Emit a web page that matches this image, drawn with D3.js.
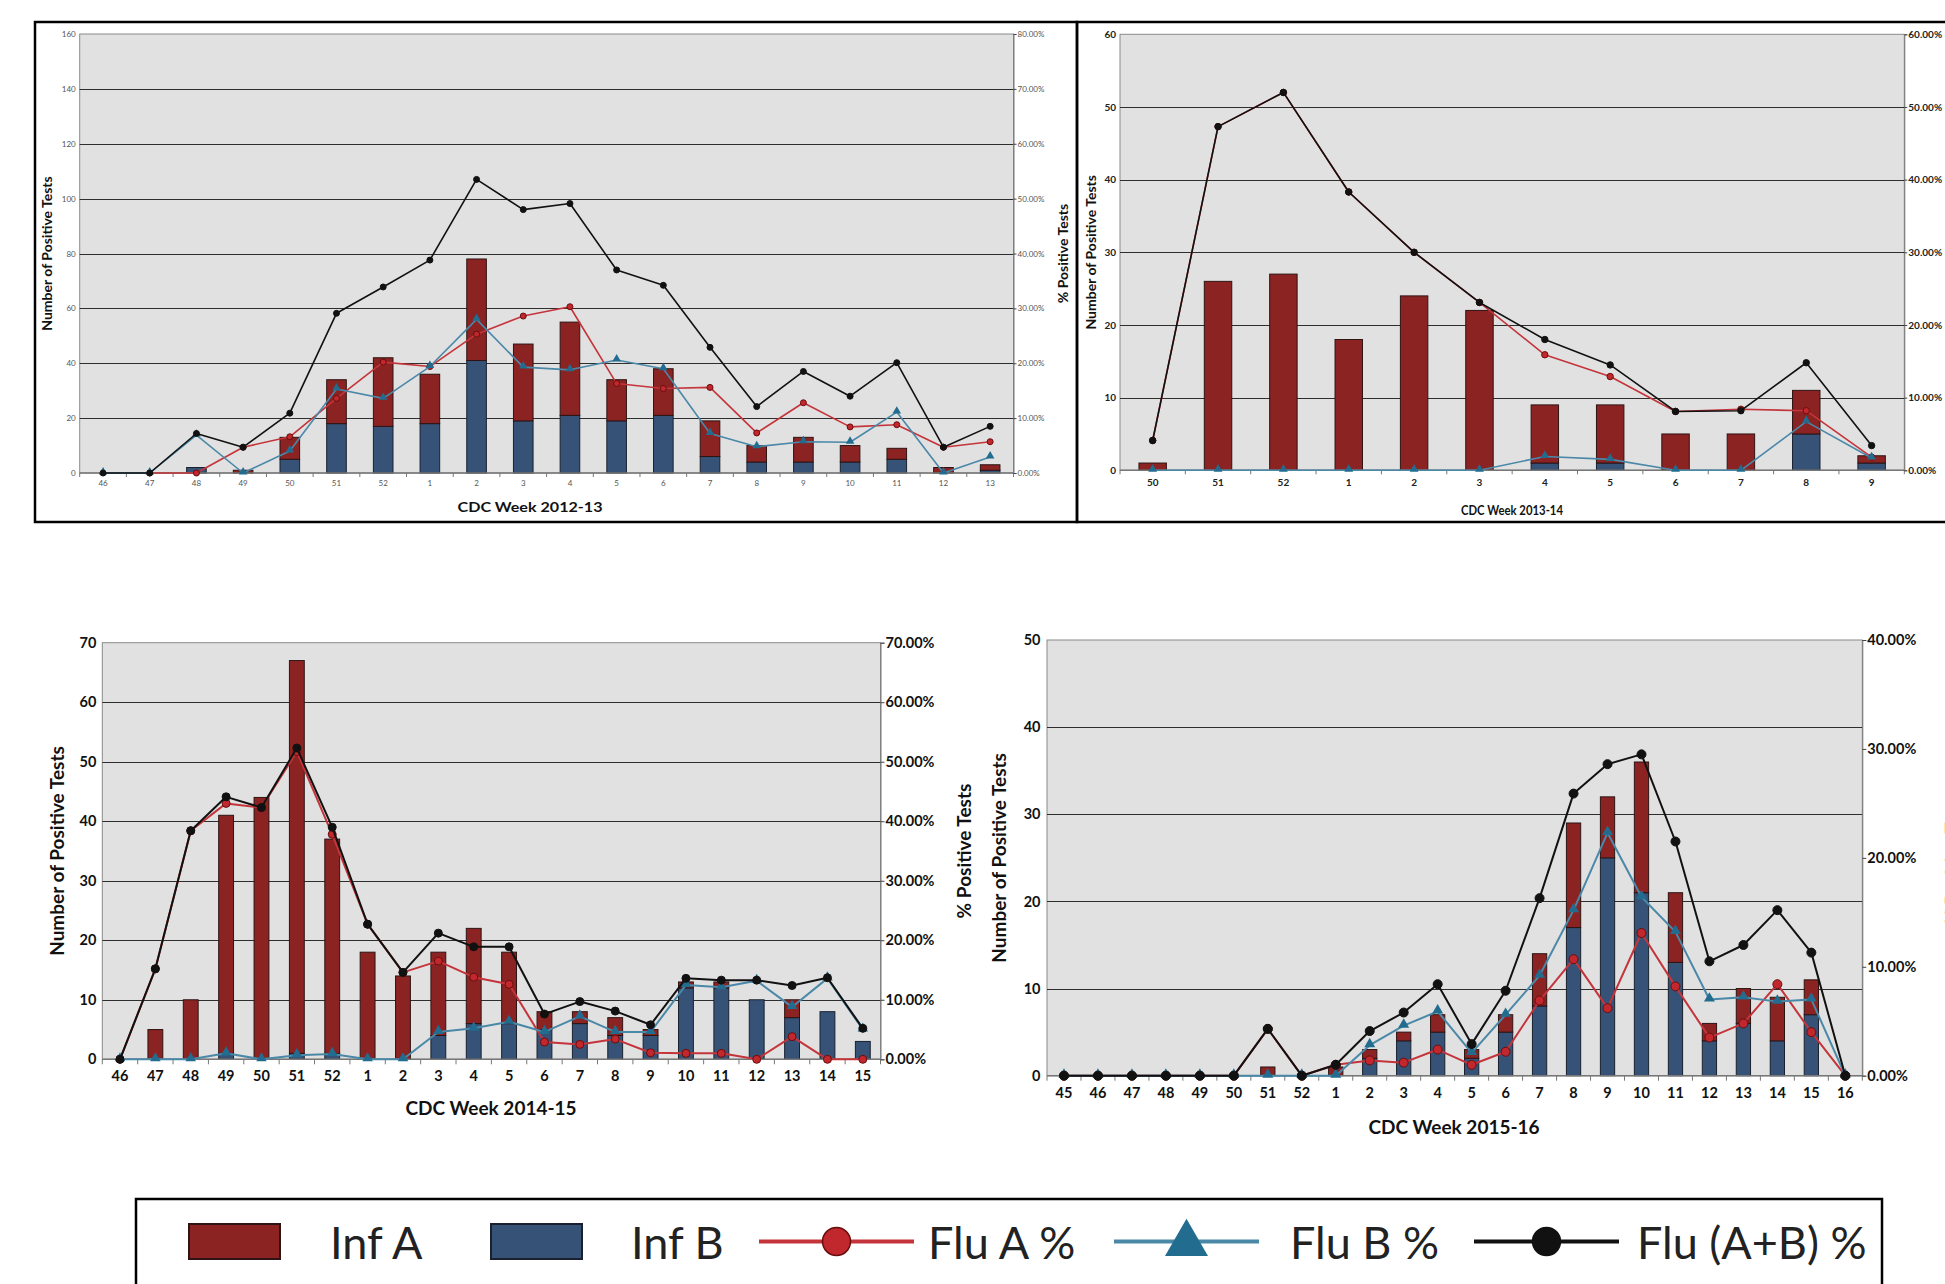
<!DOCTYPE html>
<html>
<head>
<meta charset="utf-8">
<script src="https://cdn.jsdelivr.net/npm/d3@7"></script>
<style>
  body { margin: 0; background: #fff; }
  svg text { font-family: Lato, "Open Sans", sans-serif; }
</style>
</head>
<body>
<svg id="chart" width="1945" height="1284"></svg>
<script>
// ---- data: season 2012-13 ----
const weeks1213 = ["46","47","48","49","50","51","52","1","2","3","4","5","6","7","8","9","10","11","12","13"];
const infA1213  = [0,0,0,1,8,16,25,18,37,28,34,15,17,13,6,9,6,4,2,2];
const infB1213  = [0,0,2,0,5,18,17,18,41,19,21,19,21,6,4,4,4,5,0,1];
const fluA1213  = [null,0,0,4.7,6.6,13.6,20.2,19.4,25.3,28.6,30.3,16.3,15.4,15.6,7.3,12.8,8.4,8.8,4.7,5.7];
const fluB1213  = [0,0,6.9,0,4.0,15.3,13.6,19.4,28.0,19.3,18.8,20.6,19.0,7.2,4.8,5.7,5.6,11.1,0,2.9];
const fluAB1213 = [0,0,7.2,4.7,10.9,29.1,33.9,38.8,53.5,48.0,49.1,37.0,34.2,22.9,12.1,18.5,14.0,20.1,4.7,8.5];

// ---- data: season 2013-14 ----
const weeks1314 = ["50","51","52","1","2","3","4","5","6","7","8","9"];
const infA1314  = [1,26,27,18,24,22,8,8,5,5,6,1];
const infB1314  = [0,0,0,0,0,0,1,1,0,0,5,1];
const fluA1314  = [4.1,47.3,52.0,38.3,30.0,23.1,15.9,12.9,8.1,8.4,8.2,1.8];
const fluB1314  = [0,0,0,0,0,0,1.9,1.5,0,0,6.7,1.7];
const fluAB1314 = [4.1,47.3,52.0,38.3,30.0,23.1,18.0,14.5,8.1,8.2,14.8,3.4];

// ---- data: season 2014-15 ----
const weeks1415 = ["46","47","48","49","50","51","52","1","2","3","4","5","6","7","8","9","10","11","12","13","14","15"];
const infA1415  = [0,5,10,40,44,66,36,18,14,14,16,12,3,2,3,1,1,1,0,3,0,0];
const infB1415  = [0,0,0,1,0,1,1,0,0,4,6,6,5,6,4,4,12,12,10,7,8,3];
const fluA1415  = [0,15.2,38.4,43.0,42.3,51.7,37.8,22.7,14.6,16.5,13.8,12.6,2.9,2.5,3.4,1.1,1.0,1.0,0,3.8,0,0];
const fluB1415  = [0,0,0,1.0,0,0.7,0.9,0,0,4.6,5.2,6.3,4.6,7.2,4.6,4.6,12.5,12.1,13.2,8.8,13.6,5.0];
const fluAB1415 = [0,15.2,38.4,44.1,42.3,52.3,39.0,22.7,14.6,21.2,18.9,18.9,7.6,9.7,8.1,5.8,13.6,13.3,13.3,12.4,13.7,5.2];

// ---- data: season 2015-16 ----
const weeks1516 = ["45","46","47","48","49","50","51","52","1","2","3","4","5","6","7","8","9","10","11","12","13","14","15","16"];
const infA1516  = [0,0,0,0,0,0,1,0,1,1,1,2,1,2,6,12,7,15,8,2,4,5,4,0];
const infB1516  = [0,0,0,0,0,0,0,0,0,2,4,5,2,5,8,17,25,21,13,4,6,4,7,0];
const fluA1516  = [0,0,0,0,0,0,4.3,0,1.0,1.4,1.2,2.4,1.0,2.2,6.9,10.7,6.2,13.1,8.2,3.5,4.8,8.4,4.0,0];
const fluB1516  = [0,0,0,0,0,0,0,0,0,2.8,4.6,5.9,2.1,5.6,9.2,15.2,22.3,16.4,13.2,7.0,7.2,6.8,7.0,0];
const fluAB1516 = [0,0,0,0,0,0,4.3,0,1.0,4.1,5.8,8.4,2.9,7.8,16.3,25.9,28.6,29.5,21.5,10.5,12.0,15.2,11.3,0];

const legendLabels = ["Inf A", "Inf B", "Flu A %", "Flu B %", "Flu (A+B) %"];

const colors = {
  infA: "#8b2323", infAEdge: "#2e1414",
  infB: "#365377", infBEdge: "#19212e",
  fluA: "#c4343a", fluADot: "#c0282d", fluADotEdge: "#6a0d0d",
  fluB: "#4a88a8", fluBDot: "#216c8f",
  fluAB: "#111111"
};

const svg = d3.select("#chart");

// frames round the two top charts
svg.append("rect").attr("x", 35).attr("y", 22).attr("width", 1042).attr("height", 500)
  .attr("fill", "none").attr("stroke", "#000").attr("stroke-width", 2.5);
svg.append("rect").attr("x", 1077).attr("y", 22).attr("width", 900).attr("height", 500)
  .attr("fill", "none").attr("stroke", "#000").attr("stroke-width", 2.5);

function drawPanel(cfg, weeks, infA, infB, fluA, fluB, fluAB) {
  const g = svg.append("g");

  const x = d3.scaleBand().domain(weeks).range([cfg.left, cfg.right])
    .paddingInner(0.58).paddingOuter(0.29);
  const yL = d3.scaleLinear().domain([0, cfg.yMax]).range([cfg.bottom, cfg.top]);
  const yR = d3.scaleLinear().domain([0, cfg.pMax]).range([cfg.bottom, cfg.top]);
  const cx = w => x(w) + x.bandwidth() / 2;

  // plot area
  g.append("rect")
    .attr("x", cfg.left).attr("y", cfg.top)
    .attr("width", cfg.right - cfg.left).attr("height", cfg.bottom - cfg.top)
    .attr("fill", "#e1e1e1").attr("stroke", "#8a8a8a").attr("stroke-width", 1);

  const leftTicks = d3.range(0, cfg.yMax + cfg.yStep / 2, cfg.yStep);
  const rightTicks = d3.range(0, cfg.pMax + cfg.pStep / 2, cfg.pStep);

  // gridlines
  g.append("g").selectAll("line")
    .data(leftTicks.filter(v => v > 0 && v < cfg.yMax))
    .join("line")
    .attr("x1", cfg.left).attr("x2", cfg.right)
    .attr("y1", d => Math.round(yL(d)) + 0.5).attr("y2", d => Math.round(yL(d)) + 0.5)
    .attr("stroke", "#2e2e2e").attr("stroke-width", 1);

  // stacked bars: Inf B at the bottom, Inf A on top
  const rows = weeks.map((w, i) => ({ w: w, a: infA[i], b: infB[i] }));
  g.append("g").selectAll("rect")
    .data(rows.filter(r => r.b > 0))
    .join("rect")
    .attr("x", d => x(d.w)).attr("width", x.bandwidth())
    .attr("y", d => yL(d.b)).attr("height", d => yL(0) - yL(d.b))
    .attr("fill", colors.infB).attr("stroke", colors.infBEdge).attr("stroke-width", cfg.barEdge);
  g.append("g").selectAll("rect")
    .data(rows.filter(r => r.a > 0))
    .join("rect")
    .attr("x", d => x(d.w)).attr("width", x.bandwidth())
    .attr("y", d => yL(d.a + d.b)).attr("height", d => yL(d.b) - yL(d.a + d.b))
    .attr("fill", colors.infA).attr("stroke", colors.infAEdge).attr("stroke-width", cfg.barEdge);

  // bottom axis line
  g.append("line")
    .attr("x1", cfg.left).attr("x2", cfg.right)
    .attr("y1", cfg.bottom).attr("y2", cfg.bottom)
    .attr("stroke", "#777").attr("stroke-width", 1.5);

  // small tick marks between weeks
  g.append("g").selectAll("line")
    .data(d3.range(weeks.length + 1))
    .join("line")
    .attr("x1", i => cfg.left + i * x.step()).attr("x2", i => cfg.left + i * x.step())
    .attr("y1", cfg.bottom).attr("y2", cfg.bottom + cfg.tickLen)
    .attr("stroke", "#777").attr("stroke-width", 1);

  // percentage lines
  const series = [
    { v: fluA, line: colors.fluA, dot: colors.fluADot, edge: colors.fluADotEdge, shape: "circle" },
    { v: fluB, line: colors.fluB, dot: colors.fluBDot, edge: colors.fluBDot, shape: "triangle" },
    { v: fluAB, line: colors.fluAB, dot: colors.fluAB, edge: colors.fluAB, shape: "circle" }
  ];
  const line = d3.line()
    .defined(d => d.v != null)
    .x(d => cx(d.w))
    .y(d => yR(d.v));

  series.forEach(s => {
    const pts = weeks.map((w, i) => ({ w: w, v: s.v[i] }));
    g.append("path")
      .datum(pts)
      .attr("d", line)
      .attr("fill", "none")
      .attr("stroke", s.line)
      .attr("stroke-width", cfg.lineW)
      .attr("stroke-linejoin", "round");
    const valid = pts.filter(d => d.v != null);
    if (s.shape === "circle") {
      g.append("g").selectAll("circle")
        .data(valid)
        .join("circle")
        .attr("cx", d => cx(d.w)).attr("cy", d => yR(d.v))
        .attr("r", cfg.dotR)
        .attr("fill", s.dot).attr("stroke", s.edge).attr("stroke-width", 1);
    } else {
      g.append("g").selectAll("path")
        .data(valid)
        .join("path")
        .attr("d", d3.symbol(d3.symbolTriangle, cfg.triSize))
        .attr("transform", d => `translate(${cx(d.w)},${yR(d.v) - 1})`)
        .attr("fill", s.dot);
    }
  });

  // axes
  const tickStyle = sel => sel
    .attr("font-size", cfg.tickFont)
    .attr("font-weight", cfg.tickWeight)
    .attr("fill", cfg.tickColor)
    .attr("font-family", "Lato, 'Open Sans', sans-serif");

  g.append("g")
    .attr("transform", `translate(${cfg.left},0)`)
    .call(d3.axisLeft(yL).tickValues(leftTicks).tickSize(0).tickPadding(cfg.leftPad))
    .call(a => a.select(".domain").remove())
    .call(a => a.selectAll("text").call(tickStyle));

  g.append("g")
    .attr("transform", `translate(${cfg.right},0)`)
    .call(d3.axisRight(yR).tickValues(rightTicks)
      .tickFormat(d => d.toFixed(2) + "%").tickSize(cfg.rightTick).tickPadding(1))
    .call(a => a.select(".domain").attr("stroke", "#777"))
    .call(a => a.selectAll("line").attr("stroke", "#444"))
    .call(a => a.selectAll("text").call(tickStyle));

  g.append("g")
    .attr("transform", `translate(0,${cfg.bottom})`)
    .call(d3.axisBottom(x).tickSize(0).tickPadding(cfg.xPad))
    .call(a => a.select(".domain").remove())
    .call(a => a.selectAll("text").call(tickStyle));

  // titles
  const midY = (cfg.top + cfg.bottom) / 2;
  g.append("text")
    .attr("transform", `translate(${cfg.yTitleX},${midY}) rotate(-90)`)
    .attr("text-anchor", "middle").attr("dominant-baseline", "central")
    .attr("font-size", cfg.titleFont).attr("font-weight", "bold").attr("fill", "#111")
    .text("Number of Positive Tests");
  if (cfg.y2TitleX != null) {
    g.append("text")
      .attr("transform", `translate(${cfg.y2TitleX},${midY}) rotate(-90)`)
      .attr("text-anchor", "middle").attr("dominant-baseline", "central")
      .attr("font-size", cfg.titleFont).attr("font-weight", "bold").attr("fill", "#111")
      .text("% Positive Tests");
  }
  const xt = g.append("text")
    .attr("x", cfg.xTitleX).attr("y", cfg.xTitleY)
    .attr("text-anchor", "middle")
    .attr("font-size", cfg.titleFont).attr("font-weight", "bold").attr("fill", "#111")
    .text(cfg.xTitle);
  if (cfg.xTitleLen) xt.attr("textLength", cfg.xTitleLen).attr("lengthAdjust", "spacingAndGlyphs");
}

drawPanel({
  left: 79.7, right: 1013.5, top: 34, bottom: 473,
  yMax: 160, yStep: 20, pMax: 80, pStep: 10,
  tickFont: 8, tickWeight: "normal", tickColor: "#555",
  leftPad: 4, xPad: 7, rightTick: 3, tickLen: 4,
  titleFont: 14, yTitleX: 46, y2TitleX: 1062,
  xTitle: "CDC Week 2012-13", xTitleX: 530, xTitleY: 512, xTitleLen: 145,
  barEdge: 1, lineW: 1.6, dotR: 3, triSize: 32
}, weeks1213, infA1213, infB1213, fluA1213, fluB1213, fluAB1213);

drawPanel({
  left: 1120, right: 1904.3, top: 34.3, bottom: 470.3,
  yMax: 60, yStep: 10, pMax: 60, pStep: 10,
  tickFont: 10, tickWeight: "bold", tickColor: "#222",
  leftPad: 4, xPad: 9, rightTick: 3, tickLen: 4,
  titleFont: 14, yTitleX: 1090, y2TitleX: null,
  xTitle: "CDC Week 2013-14", xTitleX: 1512, xTitleY: 515, xTitleLen: 102,
  barEdge: 1, lineW: 1.6, dotR: 3.2, triSize: 34
}, weeks1314, infA1314, infB1314, fluA1314, fluB1314, fluAB1314);

drawPanel({
  left: 102.3, right: 880.5, top: 642.7, bottom: 1059.3,
  yMax: 70, yStep: 10, pMax: 70, pStep: 10,
  tickFont: 14.5, tickWeight: "bold", tickColor: "#111",
  leftPad: 6, xPad: 11.5, rightTick: 4, tickLen: 5,
  titleFont: 19, yTitleX: 56, y2TitleX: 963,
  xTitle: "CDC Week 2014-15", xTitleX: 491, xTitleY: 1115, xTitleLen: null,
  barEdge: 1, lineW: 2, dotR: 4, triSize: 48
}, weeks1415, infA1415, infB1415, fluA1415, fluB1415, fluAB1415);

drawPanel({
  left: 1047, right: 1862.3, top: 640, bottom: 1075.7,
  yMax: 50, yStep: 10, pMax: 40, pStep: 10,
  tickFont: 14.5, tickWeight: "bold", tickColor: "#111",
  leftPad: 6.5, xPad: 12, rightTick: 4, tickLen: 5,
  titleFont: 19, yTitleX: 998, y2TitleX: 1951,
  xTitle: "CDC Week 2015-16", xTitleX: 1454, xTitleY: 1134, xTitleLen: null,
  barEdge: 1, lineW: 2, dotR: 4.5, triSize: 52
}, weeks1516, infA1516, infB1516, fluA1516, fluB1516, fluAB1516);

// ---- legend ----
const lg = svg.append("g");
lg.append("rect").attr("x", 136).attr("y", 1199).attr("width", 1746).attr("height", 110)
  .attr("fill", "#fff").attr("stroke", "#000").attr("stroke-width", 2.5);

const legendY = 1241.5;
const legendItems = [
  { label: legendLabels[0], kind: "box", fill: colors.infA, edge: colors.infAEdge, x0: 189, x1: 280, tx: 330 },
  { label: legendLabels[1], kind: "box", fill: colors.infB, edge: colors.infBEdge, x0: 491, x1: 582, tx: 631 },
  { label: legendLabels[2], kind: "circle", line: colors.fluA, fill: colors.fluADot, edge: colors.fluADotEdge, x0: 759, x1: 914, tx: 928 },
  { label: legendLabels[3], kind: "triangle", line: colors.fluB, fill: colors.fluBDot, x0: 1114, x1: 1259, tx: 1290 },
  { label: legendLabels[4], kind: "circle", line: colors.fluAB, fill: colors.fluAB, edge: colors.fluAB, x0: 1474, x1: 1619, tx: 1637 }
];

legendItems.forEach(it => {
  const mid = (it.x0 + it.x1) / 2;
  if (it.kind === "box") {
    lg.append("rect").attr("x", it.x0).attr("y", legendY - 17.5).attr("width", it.x1 - it.x0).attr("height", 35)
      .attr("fill", it.fill).attr("stroke", it.edge).attr("stroke-width", 2);
  } else {
    lg.append("line").attr("x1", it.x0).attr("x2", it.x1).attr("y1", legendY).attr("y2", legendY)
      .attr("stroke", it.line).attr("stroke-width", 4);
    if (it.kind === "circle") {
      lg.append("circle").attr("cx", mid).attr("cy", legendY).attr("r", 14)
        .attr("fill", it.fill).attr("stroke", it.edge).attr("stroke-width", 1.5);
    } else {
      lg.append("path").attr("d", d3.symbol(d3.symbolTriangle, 800))
        .attr("transform", `translate(${mid},${legendY + 2})`).attr("fill", it.fill);
    }
  }
  lg.append("text").attr("x", it.tx).attr("y", 1259)
    .attr("font-size", 45).attr("fill", "#222")
    .text(it.label);
});
</script>
</body>
</html>
